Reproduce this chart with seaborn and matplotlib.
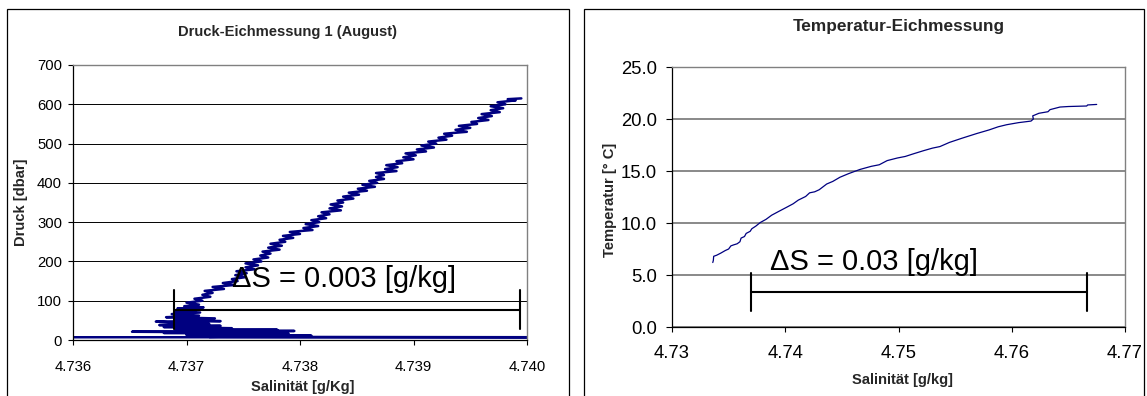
import numpy as np
import pandas as pd
import matplotlib
matplotlib.use("Agg")
import matplotlib.pyplot as plt
from matplotlib.patches import Rectangle
import seaborn as sns

# ---------------- data: left panel (pressure calibration) ----------------
druck_sal = [
    4.73570, 4.74030, 4.73720, 4.73810, 4.73700, 4.73790, 4.73680, 4.73760,
    4.73652, 4.73795, 4.73700, 4.73780, 4.73690, 4.73740, 4.73680, 4.73730,
    4.73676, 4.73720, 4.73690, 4.73673, 4.73730, 4.73690, 4.73725, 4.73682,
    4.73711, 4.73687, 4.73712, 4.73690, 4.73708, 4.73692, 4.73715, 4.73698,
    4.73711, 4.73700, 4.73714, 4.73707, 4.73721, 4.73714, 4.73723, 4.73716,
    4.73733, 4.73723, 4.73742, 4.73732, 4.73745, 4.73740, 4.73752, 4.73743,
    4.73753, 4.73744, 4.73760, 4.73752, 4.73763, 4.73752, 4.73766, 4.73759,
    4.73772, 4.73765, 4.73774, 4.73767, 4.73782, 4.73772, 4.73784, 4.73774,
    4.73787, 4.73782, 4.73794, 4.73785, 4.73800, 4.73791, 4.73811, 4.73803,
    4.73816, 4.73805, 4.73817, 4.73810, 4.73823, 4.73816, 4.73826, 4.73819,
    4.73836, 4.73826, 4.73837, 4.73827, 4.73838, 4.73833, 4.73847, 4.73838,
    4.73852, 4.73843, 4.73859, 4.73851, 4.73866, 4.73855, 4.73868, 4.73861,
    4.73874, 4.73867, 4.73874, 4.73867, 4.73885, 4.73875, 4.73886, 4.73876,
    4.73890, 4.73885, 4.73900, 4.73891, 4.73902, 4.73893, 4.73911, 4.73903,
    4.73918, 4.73907, 4.73920, 4.73913, 4.73929, 4.73922, 4.73934, 4.73927,
    4.73947, 4.73937, 4.73950, 4.73940, 4.73956, 4.73951, 4.73966, 4.73957,
    4.73969, 4.73960, 4.73976, 4.73968, 4.73979, 4.73968, 4.73981, 4.73974,
    4.73990, 4.73983, 4.73995,
]
druck_p = [
    7, 7, 8, 11, 13, 16, 18, 19,
    21, 23, 24, 26, 28, 30, 33, 36,
    38, 41, 44, 47, 48, 51, 55, 58,
    62, 66, 70, 73, 76, 80, 83, 86,
    90, 95, 100, 105, 110, 115, 120, 125,
    130, 135, 140, 145, 150, 155, 160, 165,
    170, 175, 180, 185, 190, 195, 200, 205,
    210, 215, 220, 225, 230, 235, 240, 245,
    250, 255, 260, 265, 270, 275, 280, 285,
    290, 295, 300, 305, 310, 315, 320, 325,
    330, 335, 340, 345, 350, 355, 360, 365,
    370, 375, 380, 385, 390, 395, 400, 405,
    410, 415, 420, 425, 430, 435, 440, 445,
    450, 455, 460, 465, 470, 475, 480, 485,
    490, 495, 500, 505, 510, 515, 520, 525,
    530, 535, 540, 545, 550, 555, 560, 565,
    570, 575, 580, 585, 590, 595, 600, 605,
    610, 613, 615,
]

# ---------------- data: right panel (temperature calibration) ----------------
temp_sal = [
    4.73360, 4.73365, 4.73368, 4.73394, 4.73430, 4.73470, 4.73500, 4.73520,
    4.73545, 4.73575, 4.73600, 4.73610, 4.73640, 4.73655, 4.73690, 4.73705,
    4.73740, 4.73780, 4.73830, 4.73880, 4.73940, 4.74010, 4.74070, 4.74115,
    4.74180, 4.74215, 4.74260, 4.74300, 4.74366, 4.74420, 4.74483, 4.74560,
    4.74660, 4.74760, 4.74830, 4.74900, 4.74990, 4.75060, 4.75131, 4.75220,
    4.75300, 4.75366, 4.75450, 4.75560, 4.75690, 4.75800, 4.75880, 4.75955,
    4.76060, 4.76170, 4.76191, 4.76185, 4.76240, 4.76320, 4.76338, 4.76426,
    4.76500, 4.76662, 4.76670, 4.76750,
]
temp_t = [
    6.20, 6.40, 6.80, 6.90, 7.10, 7.35, 7.50, 7.80,
    7.90, 8.00, 8.20, 8.55, 8.70, 9.00, 9.20, 9.45,
    9.70, 10.05, 10.35, 10.75, 11.10, 11.50, 11.85, 12.20,
    12.55, 12.90, 13.00, 13.20, 13.75, 14.00, 14.40, 14.75,
    15.15, 15.45, 15.60, 16.00, 16.25, 16.40, 16.65, 16.95,
    17.20, 17.35, 17.75, 18.15, 18.60, 18.95, 19.25, 19.45,
    19.65, 19.80, 20.00, 20.30, 20.55, 20.70, 20.90, 21.15,
    21.20, 21.25, 21.35, 21.40,
]

# ticks
left_xticks = [4.736, 4.737, 4.738, 4.739, 4.740]
left_xticklabels = ["4.736", "4.737", "4.738", "4.739", "4.740"]
left_yticks = [0, 100, 200, 300, 400, 500, 600, 700]
right_xticks = [4.73, 4.74, 4.75, 4.76, 4.77]
right_xticklabels = ["4.73", "4.74", "4.75", "4.76", "4.77"]
right_yticks = [0, 5, 10, 15, 20, 25]
right_yticklabels = ["0.0", "5.0", "10.0", "15.0", "20.0", "25.0"]

# ΔS range markers
left_range = [4.73689, 4.73994]
right_range = [4.73698, 4.76664]

sns.set_theme(style="white")
plt.rcParams["font.family"] = ["Liberation Sans", "DejaVu Sans"]

W, H = 1147, 396
fig = plt.figure(figsize=(W / 100, H / 100), dpi=100)
fig.patch.set_facecolor("white")

def fx(px):
    return px / W

def fy(py):
    return 1 - py / H

# panel borders
for x0, x1 in [(7, 569), (584, 1144)]:
    fig.add_artist(Rectangle((fx(x0), -0.05), fx(x1) - fx(x0), fy(9) + 0.05,
                             transform=fig.transFigure, fill=False,
                             edgecolor="black", linewidth=0.9))

axL = fig.add_axes([fx(73), fy(340), fx(527) - fx(73), fy(65) - fy(340)])
axR = fig.add_axes([fx(672), fy(327), fx(1125) - fx(672), fy(67) - fy(327)])

dfL = pd.DataFrame({"sal": druck_sal, "p": druck_p})
dfR = pd.DataFrame({"sal": temp_sal, "t": temp_t})

sns.lineplot(data=dfL, x="sal", y="p", sort=False, estimator=None,
             color="#000080", linewidth=1.8, ax=axL)
sns.lineplot(data=dfR, x="sal", y="t", sort=False, estimator=None,
             color="#000080", linewidth=0.9, ax=axR)

# left axes styling
axL.set_xlim(4.736, 4.740)
axL.set_ylim(0, 700)
axL.set_xticks(left_xticks)
axL.set_xticklabels(left_xticklabels)
axL.set_yticks(left_yticks)
axL.set_yticklabels([str(v) for v in left_yticks])
axL.tick_params(axis="x", direction="out", length=3.6, width=0.8, pad=10.5,
                labelsize=10.7, colors="black", bottom=True)
axL.tick_params(axis="y", direction="out", length=3.6, width=0.8, pad=4.3,
                labelsize=10.7, colors="black", left=True)
axL.grid(axis="y", color="black", linewidth=0.7)
axL.grid(axis="x", visible=False)
axL.set_axisbelow(True)
for s in ["left", "bottom"]:
    axL.spines[s].set_color("black")
    axL.spines[s].set_linewidth(0.9)
for s in ["top", "right"]:
    axL.spines[s].set_color("#808080")
    axL.spines[s].set_linewidth(1.0)
axL.set_xlabel("")
axL.set_ylabel("")

# right axes styling
axR.set_xlim(4.73, 4.77)
axR.set_ylim(0, 25)
axR.set_xticks(right_xticks)
axR.set_xticklabels(right_xticklabels)
axR.set_yticks(right_yticks)
axR.set_yticklabels(right_yticklabels)
axR.tick_params(axis="x", direction="out", length=3.6, width=0.8, pad=9.4,
                labelsize=13.3, colors="black", bottom=True)
axR.tick_params(axis="y", direction="out", length=4.3, width=0.8, pad=6.5,
                labelsize=13.3, colors="black", left=True)
axR.grid(axis="y", color="#808080", linewidth=1.3)
axR.grid(axis="x", visible=False)
axR.set_axisbelow(True)
for s in ["left", "bottom"]:
    axR.spines[s].set_color("black")
    axR.spines[s].set_linewidth(0.9)
for s in ["top", "right"]:
    axR.spines[s].set_color("#808080")
    axR.spines[s].set_linewidth(1.0)
axR.set_xlabel("")
axR.set_ylabel("")

# ΔS brackets
axL.plot(left_range, [76, 76], color="black", linewidth=1.5, clip_on=False)
for xv in left_range:
    axL.plot([xv, xv], [28, 127], color="black", linewidth=1.5, clip_on=False)
axL.text(4.73740, 135, "ΔS = 0.003 [g/kg]", fontsize=21, color="black",
         ha="left", va="baseline")

axR.plot(right_range, [3.41, 3.41], color="black", linewidth=1.5, clip_on=False)
for xv in right_range:
    axR.plot([xv, xv], [1.54, 5.19], color="black", linewidth=1.5, clip_on=False)
axR.text(4.73865, 5.45, "ΔS = 0.03 [g/kg]", fontsize=21, color="black",
         ha="left", va="baseline")

# titles and axis labels
fig.text(fx(287), fy(32), "Druck-Eichmessung 1 (August)", fontsize=10.6,
         fontweight="bold", ha="center", va="center")
fig.text(fx(899), fy(27), "Temperatur-Eichmessung", fontsize=12.4,
         fontweight="bold", ha="center", va="center")
fig.text(fx(303), fy(387), "Salinität [g/Kg]", fontsize=10.6,
         fontweight="bold", ha="center", va="center")
fig.text(fx(902), fy(380), "Salinität [g/kg]", fontsize=10.6,
         fontweight="bold", ha="center", va="center")
fig.text(fx(21), fy(202), "Druck [dbar]", fontsize=10.6, fontweight="bold",
         ha="center", va="center", rotation=90)
fig.text(fx(610), fy(200), "Temperatur [° C]", fontsize=10.6, fontweight="bold",
         ha="center", va="center", rotation=90)

fig.savefig("out.png", dpi=100, facecolor="white")
